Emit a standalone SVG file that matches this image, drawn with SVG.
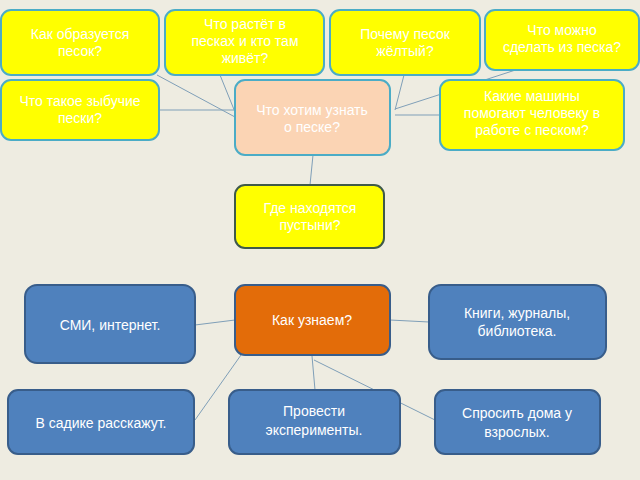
<svg xmlns="http://www.w3.org/2000/svg" width="640" height="480" viewBox="0 0 640 480">
<style>
.y{fill:#ffff00;stroke:#4bacc6;stroke-width:2}
.b{fill:#4f81bd;stroke:#385d8a;stroke-width:2}
text{font-family:"Liberation Sans",Arial,sans-serif;font-size:14px;fill:#fff;text-anchor:middle}
.c line{stroke:#7f9fb8;stroke-width:1}
</style>
<rect width="640" height="480" fill="#eeece1"/>
<g class="c">
<line x1="157" y1="75" x2="235" y2="117"/>
<line x1="220" y1="75" x2="235" y2="112"/>
<line x1="159" y1="110" x2="235" y2="110"/>
<line x1="404" y1="75" x2="395" y2="110"/>
<line x1="531" y1="65" x2="395" y2="109"/>
<line x1="395" y1="115" x2="440" y2="115"/>
<line x1="313" y1="155" x2="310" y2="185"/>
<line x1="195" y1="325" x2="235" y2="320"/>
<line x1="390" y1="320" x2="429" y2="322"/>
<line x1="241" y1="355" x2="195" y2="420"/>
<line x1="312" y1="356" x2="315" y2="390"/>
<line x1="314" y1="360" x2="435" y2="420"/>
</g>
<g id="n1"><rect class="y" x="1" y="10" width="158" height="65" rx="10"/><text x="80" y="39">Как  образуется</text><text x="80" y="56">песок?</text></g>
<g id="n2"><rect class="y" x="165" y="10" width="159" height="65" rx="10"/><text x="245" y="29">Что растёт в</text><text x="245" y="46">песках и кто там</text><text x="245" y="63">живёт?</text></g>
<g id="n3"><rect class="y" x="330" y="10" width="150" height="65" rx="10"/><text x="405" y="39">Почему песок</text><text x="405" y="56">жёлтый?</text></g>
<g id="n4"><rect class="y" x="485" y="10" width="154" height="60" rx="10"/><text x="562" y="35">Что можно</text><text x="562" y="52">сделать из песка?</text></g>
<g id="n5"><rect class="y" x="1" y="80" width="158" height="60" rx="10"/><text x="80" y="106">Что такое зыбучие</text><text x="80" y="123">пески?</text></g>
<g id="n6"><rect x="235" y="80" width="155" height="75" rx="10" fill="#fbd4b4" stroke="#4bacc6" stroke-width="2"/><text x="312" y="115">Что хотим узнать</text><text x="312" y="132">о песке?</text></g>
<g id="n7"><rect class="y" x="440" y="80" width="184" height="70" rx="10"/><text x="532" y="101">Какие машины</text><text x="532" y="118">помогают человеку в</text><text x="532" y="135">работе с песком?</text></g>
<g id="n8"><rect x="235" y="185" width="149" height="63" rx="10" fill="#ffff00" stroke="#3f5a4a" stroke-width="2"/><text x="310" y="213">Где находятся</text><text x="310" y="230">пустыни?</text></g>
<g id="n9"><rect class="b" x="25" y="285" width="170" height="78" rx="12"/><text x="110" y="330">СМИ, интернет.</text></g>
<g id="n10"><rect x="235" y="285" width="155" height="70" rx="10" fill="#e36c09" stroke="#385d8a" stroke-width="2"/><text x="312" y="325">Как узнаем?</text></g>
<g id="n11"><rect class="b" x="429" y="285" width="177" height="74" rx="12"/><text x="517" y="318">Книги, журналы,</text><text x="517" y="336">библиотека.</text></g>
<g id="n12"><rect class="b" x="8" y="390" width="186" height="64" rx="10"/><text x="101" y="428">В садике расскажут.</text></g>
<g id="n13"><rect class="b" x="229" y="390" width="171" height="64" rx="10"/><text x="314" y="416">Провести</text><text x="314" y="435">эксперименты.</text></g>
<g id="n14"><rect class="b" x="435" y="390" width="165" height="64" rx="10"/><text x="517" y="418">Спросить дома у</text><text x="517" y="437">взрослых.</text></g>
</svg>
